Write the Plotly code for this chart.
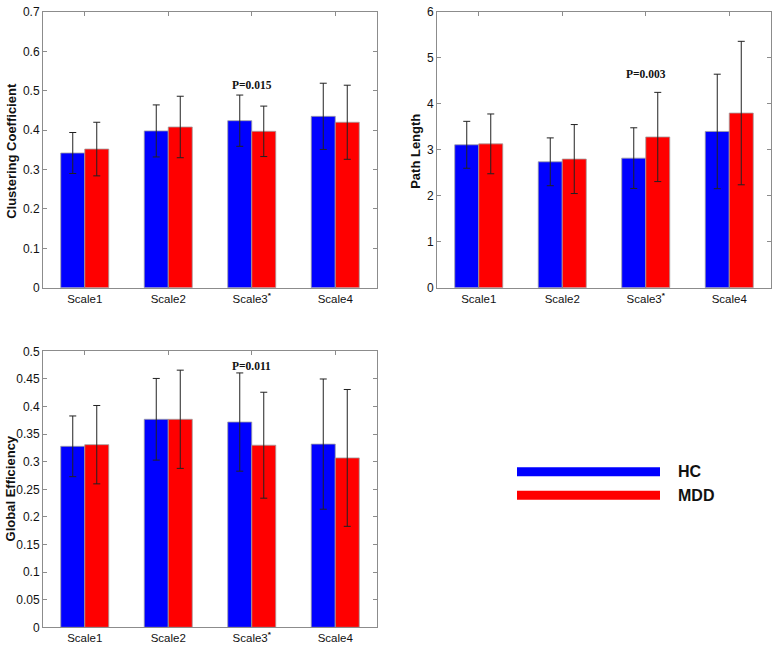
import plotly.graph_objects as go

categories = ["Scale1", "Scale2", "Scale3", "Scale4"]
tick_labels = ["Scale1", "Scale2", "Scale3<sup><b>*</b></sup>", "Scale4"]
groups = ["HC", "MDD"]

cc_hc = [0.342, 0.398, 0.424, 0.435]
cc_hc_sd = [0.052, 0.066, 0.065, 0.084]
cc_mdd = [0.352, 0.408, 0.397, 0.420]
cc_mdd_sd = [0.068, 0.078, 0.064, 0.094]

pl_hc = [3.11, 2.74, 2.82, 3.40]
pl_hc_sd = [0.51, 0.52, 0.66, 1.245]
pl_mdd = [3.13, 2.80, 3.28, 3.80]
pl_mdd_sd = [0.65, 0.75, 0.97, 1.56]

ge_hc = [0.328, 0.377, 0.372, 0.332]
ge_hc_sd = [0.055, 0.074, 0.089, 0.118]
ge_mdd = [0.331, 0.377, 0.330, 0.307]
ge_mdd_sd = [0.071, 0.089, 0.096, 0.124]

p_labels = ["P=0.015", "P=0.003", "P=0.011"]
p_y = [0.514, 4.64, 0.474]

y_titles = ["Clustering Coefficient", "Path Length", "Global Efficiency"]
y_ranges = [[0, 0.7], [0, 6], [0, 0.5]]
y_dticks = [0.1, 1, 0.05]

colors = {"HC": "#0000FF", "MDD": "#FF0000"}

xpos = [1, 2, 3, 4]

W, H = 773, 649


def px(x):
    return min(1.0, max(0.0, x / W))


def py(y):
    return min(1.0, max(0.0, 1 - y / H))


fig = go.Figure()

panels = [
    (cc_hc, cc_hc_sd, cc_mdd, cc_mdd_sd),
    (pl_hc, pl_hc_sd, pl_mdd, pl_mdd_sd),
    (ge_hc, ge_hc_sd, ge_mdd, ge_mdd_sd),
]
xdomains = [[px(43), px(377)], [px(437), px(771)], [px(43), px(377)]]
ydomains = [[py(287), py(5)], [py(287), py(5)], [py(634), py(352)]]

axis_color = "#8c8c8c"

for i, (h, hsd, m, msd) in enumerate(panels):
    xa = "x" if i == 0 else f"x{i+1}"
    ya = "y" if i == 0 else f"y{i+1}"
    for name, vals, sds in (("HC", h, hsd), ("MDD", m, msd)):
        fig.add_trace(go.Bar(
            x=xpos, y=vals, name=name, xaxis=xa, yaxis=ya,
            offsetgroup=name,
            marker=dict(color=colors[name], line=dict(color="#a0a0a0", width=0.8)),
            error_y=dict(type="data", array=sds, visible=True, color="#222222",
                         thickness=1, width=3.5),
            showlegend=False,
        ))
    xkey = "xaxis" if i == 0 else f"xaxis{i+1}"
    ykey = "yaxis" if i == 0 else f"yaxis{i+1}"
    fig.layout[xkey] = dict(
        domain=xdomains[i], anchor=ya, range=[0.5, 4.5],
        tickvals=xpos, ticktext=tick_labels,
        ticks="inside", ticklen=4, tickcolor=axis_color,
        showline=True, linecolor=axis_color, linewidth=1, mirror="ticks",
        showgrid=False, zeroline=False,
        tickfont=dict(family="Arial, Liberation Sans", size=11.5, color="#111111"),
    )
    fig.layout[ykey] = dict(
        domain=ydomains[i], anchor=xa, range=y_ranges[i], dtick=y_dticks[i],
        ticks="inside", ticklen=4, tickcolor=axis_color,
        showline=True, linecolor=axis_color, linewidth=1, mirror="ticks",
        showgrid=False, zeroline=False,
        tickfont=dict(family="Arial, Liberation Sans", size=12, color="#111111"),
    )
    fig.add_annotation(
        x=3, y=p_y[i], xref=xa, yref=ya, text=f"<b>{p_labels[i]}</b>",
        showarrow=False, xanchor="center", yanchor="middle",
        font=dict(family="Liberation Serif, Times New Roman", size=11.5, color="#111111"),
    )

# y-axis titles (positions in page pixels)
title_pos = [(12, 147), (416, 147), (10, 492)]
for (tx, ty), t in zip(title_pos, y_titles):
    fig.add_annotation(
        x=px(tx), y=py(ty), xref="paper", yref="paper",
        text=f"<b>{t}</b>", textangle=-90, showarrow=False,
        xanchor="center", yanchor="middle",
        font=dict(family="Arial, Liberation Sans", size=13, color="#111111"),
    )

# legend
leg_y = [475, 499]
for g, ly in zip(groups, leg_y):
    fig.add_shape(type="line", xref="paper", yref="paper",
                  x0=px(517), x1=px(660), y0=py(ly), y1=py(ly),
                  line=dict(color=colors[g], width=9))
    fig.add_annotation(x=px(676), y=py(ly), xref="paper", yref="paper",
                       text=f"<b>{g}</b>", showarrow=False,
                       xanchor="left", yanchor="middle",
                       font=dict(family="Arial, Liberation Sans", size=16, color="#111111"))

fig.update_layout(
    width=W, height=H,
    margin=dict(l=0, r=0, t=0, b=0),
    barmode="group", bargap=0.425, bargroupgap=0,
    plot_bgcolor="white", paper_bgcolor="white",
)

fig.write_html("out.html", config={"displayModeBar": False},
               post_script="document.body.style.margin='0';")
